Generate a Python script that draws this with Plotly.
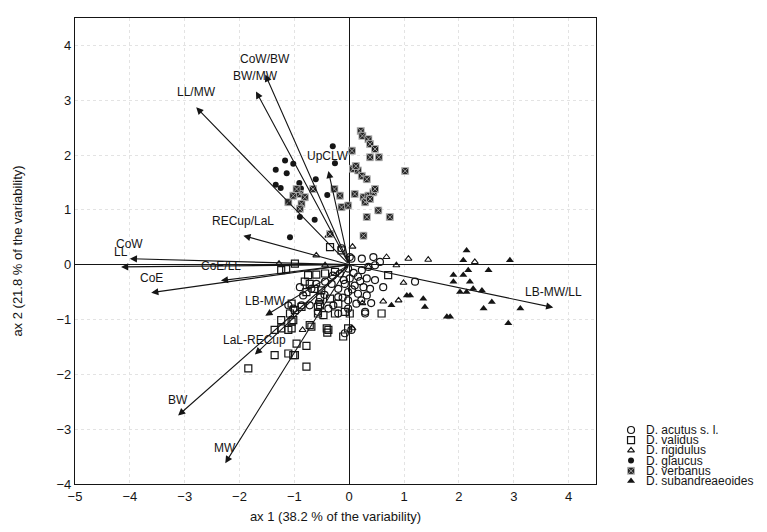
import plotly.graph_objects as go

# ---------------- data ----------------
acutus_x = [0.04, 0.23, 0.44, 0.47, 0.35, 0.23, -0.02, -0.17, 0.01, 0.16, 0.32, 0.47, -0.08, 0.10, 0.26, 0.38,
            -0.20, -0.32, -0.44, -0.60, -0.69, -0.84, -0.87, -0.72, -0.02, 0.16, 0.32, -0.20, -0.02, 0.13, -0.29,
            -0.38, -0.02, 0.29, -0.20, -0.57, -0.90, -1.11, -1.02, 0.04, -0.08, 0.56, 0.62, 1.20, 0.29, -0.14,
            0.01, 0.08, 0.20, -0.10, 0.05, -0.12, 0.22, -0.45, -0.55, 0.40, -0.30]
acutus_y = [0.11, 0.11, 0.14, -0.01, -0.04, -0.10, -0.07, -0.16, -0.25, -0.22, -0.25, -0.28, -0.35, -0.38, -0.41,
            -0.44, -0.44, -0.35, -0.31, -0.35, -0.44, -0.56, -0.74, -0.74, -0.50, -0.53, -0.56, -0.59, -0.65, -0.71,
            -0.74, -0.80, -0.80, -0.86, -0.89, -0.86, -0.41, -0.74, -0.80, -1.19, -1.25, 0.05, -0.41, -0.31, -0.89,
            0.30, 0.14, -0.15, -0.30, -0.28, -0.45, -0.60, -0.65, -0.55, -0.68, -0.70, -0.20]

validus_x = [-0.99, -1.24, -0.26, -0.75, -0.81, -0.63, -0.51, -1.05, -0.87, -0.99, -0.57, -0.57, -0.26, 0.01,
             -1.24, -1.02, -1.24, -1.05, -1.36, -0.69, -0.41, -0.11, -0.96, -0.78, -1.36, -1.02, -1.84, -0.78,
             0.59, 0.71, -0.35, -0.14, -0.60, -0.44, -0.72, -0.78, -0.53, -0.35, -1.08, -0.53, -0.47, -0.20,
             -0.08, -0.72, -0.38, -1.11, -1.05, -0.40, -0.02, -1.11, -0.99, -1.15]
validus_y = [0.02, -0.10, -0.13, -0.19, -0.31, -0.44, -0.47, -0.71, -0.77, -0.83, -0.77, -0.89, -0.89, -0.89,
             -1.01, -1.01, -1.16, -1.16, -1.19, -1.13, -1.16, -1.31, -1.44, -1.48, -1.65, -1.65, -1.89, -1.86,
             -0.89, -0.19, 0.32, 0.26, -0.18, -0.16, -0.35, -0.50, -0.59, -0.62, -0.89, -0.74, -0.92, -0.71,
             -0.86, -1.10, -1.19, -1.19, -1.04, -1.24, -1.16, -1.62, -1.65, -0.08]

rigidulus_x = [0.68, 1.08, 1.44, 0.86, 0.99, 0.62, 0.90, 0.24, 0.06, 2.29, 0.35, -0.60, -1.28, -0.44, -0.85,
               0.06, -0.38]
rigidulus_y = [0.14, 0.11, 0.09, -0.01, -0.33, -0.67, -0.65, -0.70, 0.33, 0.05, -0.04, 0.17, 0.02, -0.01, -1.19,
               -1.16, 0.53]

glaucus_x = [-1.17, -1.02, -1.34, -1.14, -0.30, -0.26, -0.61, -1.34, -1.25, -0.91, -0.88, -0.40, -0.90, -0.63, -1.08]
glaucus_y = [1.90, 1.84, 1.73, 1.67, 2.16, 1.85, 1.56, 1.46, 1.40, 1.49, 1.39, 1.27, 0.87, 0.82, 0.50]

verbanus_x = [0.21, 0.24, 0.35, 0.38, 0.47, 0.38, 0.54, 0.05, 1.02, 0.07, 0.16, 0.23, 0.32, -0.27, -0.17, -0.14,
              -0.02, 0.10, 0.26, 0.29, 0.35, 0.44, 0.47, 0.32, 0.53, 0.74, 0.26, -0.35, -1.11, -1.02, -0.90,
              -0.81, -0.87, -0.90, -0.66, -0.96, 0.12, 0.38]
verbanus_y = [2.44, 2.35, 2.29, 2.20, 2.11, 1.96, 1.96, 2.08, 1.71, 1.75, 1.72, 1.62, 1.56, 1.38, 1.26, 1.05,
              1.08, 1.29, 1.23, 1.14, 1.26, 1.32, 1.38, 0.87, 0.99, 0.87, 0.53, 0.56, 1.14, 1.26, 1.29,
              1.23, 1.11, 1.02, 1.38, 1.38, 1.80, 1.20]

subandr_x = [2.14, 2.08, 2.93, 2.17, 2.54, 1.90, 2.08, 1.90, 2.20, 2.02, 2.14, 2.26, 2.42, 2.60, 2.45, 3.12,
             2.90, 1.84, 1.78, 1.35, 1.38, 1.05, 1.11, 0.77]
subandr_y = [0.26, 0.08, 0.08, -0.10, -0.10, -0.19, -0.19, -0.31, -0.31, -0.50, -0.50, -0.44, -0.47, -0.68, -0.80,
             -0.80, -1.07, -0.95, -0.95, -0.62, -0.77, -0.56, -0.56, -0.74]

# biplot arrows: variable names and arrow tips
var_names = ["CoW/BW", "BW/MW", "LL/MW", "UpCLW", "RECup/LaL", "CoW", "LL", "CoE/LL", "CoE",
             "LB-MW", "LaL-RECup", "BW", "MW", "LB-MW/LL"]
var_x = [-1.53, -1.70, -2.79, -0.38, -1.93, -4.00, -4.16, -2.34, -3.61, -1.53, -1.72, -3.12, -2.26, 3.72]
var_y = [3.47, 3.16, 2.87, 1.71, 0.53, 0.11, -0.04, -0.29, -0.51, -0.93, -1.64, -2.75, -3.62, -0.78]

x_ticks = [-5, -4, -3, -2, -1, 0, 1, 2, 3, 4]
y_ticks = [-4, -3, -2, -1, 0, 1, 2, 3, 4]
x_title = "ax 1 (38.2 % of the variability)"
y_title = "ax 2 (21.8 % of the variability)"

species = ["D. acutus s. l.", "D. validus", "D. rigidulus", "D. glaucus", "D. verbanus", "D. subandreaeoides"]

# ---------------- styles ----------------
INK = "#151515"
FONT = "Liberation Sans, Arial, sans-serif"
styles = [
    dict(symbol="circle-open", size=7, color=INK, line=dict(width=1.2, color=INK)),
    dict(symbol="square-open", size=7, color=INK, line=dict(width=1.2, color=INK)),
    dict(symbol="triangle-up-open", size=6, color=INK, line=dict(width=1.1, color=INK)),
    dict(symbol="circle", size=6, color=INK, line=dict(width=0)),
    dict(symbol="square-x", size=7, color="#262626", line=dict(width=0.8, color="#bdbdbd")),
    dict(symbol="triangle-up", size=7, color=INK, line=dict(width=0)),
]
series = [(acutus_x, acutus_y), (validus_x, validus_y), (rigidulus_x, rigidulus_y),
          (glaucus_x, glaucus_y), (verbanus_x, verbanus_y), (subandr_x, subandr_y)]

fig = go.Figure()
for name, (xs, ys), st in zip(species, series, styles):
    fig.add_trace(go.Scatter(x=xs, y=ys, mode="markers", name=name, marker=st,
                             showlegend=False, xaxis="x", yaxis="y"))

# custom compact legend on a helper axis
leg_rows = [54, 43.8, 33.6, 23.4, 13.2, 3]
for name, st, ry in zip(species, styles, leg_rows):
    fig.add_trace(go.Scatter(x=[23], y=[ry], mode="markers", marker=st, showlegend=False,
                             xaxis="x2", yaxis="y2", hoverinfo="skip"))

annotations = []
for name, ry in zip(species, leg_rows):
    annotations.append(dict(x=36, y=ry, xref="x2", yref="y2", text=name, showarrow=False,
                            xanchor="left", yanchor="middle", font=dict(size=12, color=INK, family=FONT)))

# arrows from origin to each variable's tip, with labels above the tips
for nm, tx, ty in zip(var_names, var_x, var_y):
    annotations.append(dict(x=tx, y=ty, xref="x", yref="y", ax=0, ay=0, axref="x", ayref="y",
                            text="", showarrow=True, arrowhead=2, arrowsize=1.3, arrowwidth=1.1,
                            arrowcolor=INK, standoff=0, startstandoff=0))
    annotations.append(dict(x=tx, y=ty, xref="x", yref="y", text=nm, showarrow=False,
                            yshift=15, xanchor="center", yanchor="middle",
                            font=dict(size=12, color=INK, family=FONT)))

axis_common = dict(showline=True, mirror=True, linecolor=INK, linewidth=1.2,
                   showgrid=True, gridcolor="#e3e3e3", griddash="dot", gridwidth=1,
                   zeroline=True, zerolinecolor=INK, zerolinewidth=1.2,
                   ticks="", tickfont=dict(size=13, color=INK, family=FONT), automargin=False)

fig.update_layout(
    width=767, height=532,
    margin=dict(l=67, r=10, t=10, b=56),
    paper_bgcolor="white", plot_bgcolor="white",
    font=dict(family=FONT, color=INK),
    xaxis=dict(range=[-5, 4.5], domain=[0, 0.7551], tickvals=x_ticks,
               title=dict(text=x_title, font=dict(size=13, color=INK, family=FONT), standoff=9),
               **axis_common),
    yaxis=dict(range=[-4, 4.5], domain=[0, 1], tickvals=y_ticks,
               title=dict(text=y_title, font=dict(size=13, color=INK, family=FONT), standoff=30),
               **axis_common),
    xaxis2=dict(domain=[0.7725, 1.0], range=[0, 157], visible=False, anchor="y2", fixedrange=True),
    yaxis2=dict(domain=[0, 0.1309], range=[0, 61], visible=False, anchor="x2", fixedrange=True),
    annotations=annotations,
    showlegend=False,
)

fig.write_html("out.html")
